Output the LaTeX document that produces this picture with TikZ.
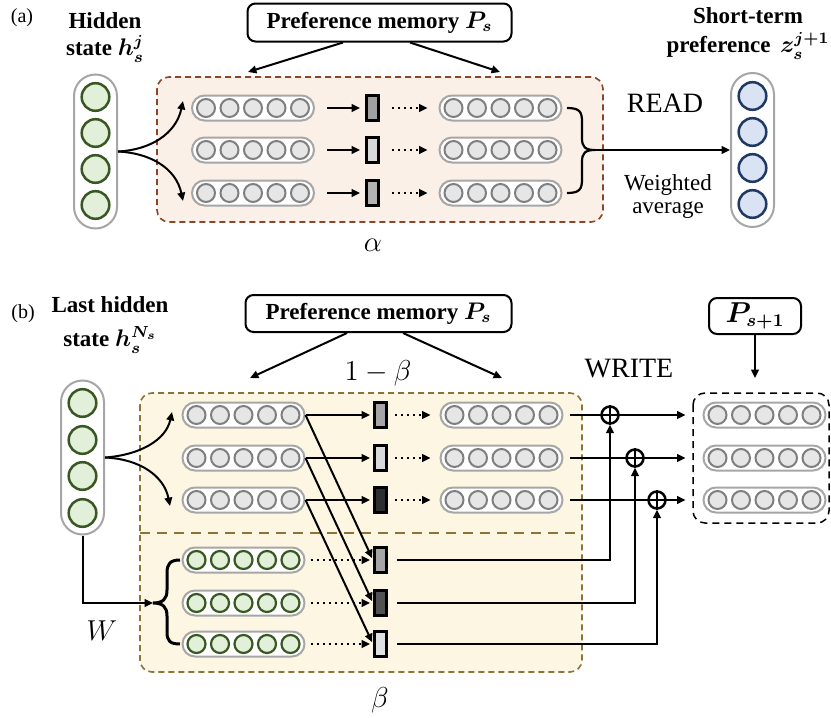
\documentclass[tikz,border=0pt]{standalone}
\usepackage{amsmath}
\usepackage{fontspec}
\setmainfont{Liberation Serif}
\usetikzlibrary{arrows.meta,calc}
\definecolor{gfill}{HTML}{E2F0D9}
\definecolor{gline}{HTML}{385723}
\definecolor{cfill}{HTML}{E6E6E6}
\definecolor{cline}{HTML}{7F7F7F}
\definecolor{pline}{HTML}{A6A6A6}
\definecolor{bfill}{HTML}{DAE3F3}
\definecolor{bline}{HTML}{1F3864}
\definecolor{afill}{HTML}{FBF0E7}
\definecolor{aline}{HTML}{8A4628}
\definecolor{bbfill}{HTML}{FDF6E3}
\definecolor{bbline}{HTML}{8C7336}
\newcommand\lblfont{\fontsize{11.5}{13}\selectfont\bfseries}
\newcommand\mkhrow[4]{%
  \node[hpill] (#1) at (#2,#3) {};
  \foreach \k in {-2,...,2} \node[#4] (#1c\k) at (#2+\k*23.5,#3) {};
}
\newcommand\mkvpill[5]{%
  \node[vpill] (#1) at (#2,#3) {};
  \foreach \yy [count=\i] in {#5} \node[#4] (#1c\i) at (#2,\yy) {};
}
\tikzset{
  hpill/.style={draw=pline, fill=white, line width=1pt, rounded corners=6.25pt,
    minimum width=61pt, minimum height=12.5pt, inner sep=0pt},
  vpill/.style={draw=pline, fill=white, line width=1pt, rounded corners=10.75pt,
    minimum width=21.5pt, minimum height=77pt, inner sep=0pt},
  sgray/.style={circle, draw=cline, fill=cfill, line width=1pt, minimum size=9pt, inner sep=0pt},
  sgreen/.style={circle, draw=gline, fill=gfill, line width=1.1pt, minimum size=9pt, inner sep=0pt},
  biggreen/.style={circle, draw=gline, fill=gfill, line width=1.25pt, minimum size=13.8pt, inner sep=0pt},
  bigblue/.style={circle, draw=bline, fill=bfill, line width=1.25pt, minimum size=13.8pt, inner sep=0pt},
  barbox/.style={draw=black, line width=1.5pt, minimum width=6pt, minimum height=12.5pt, inner sep=0pt},
  membox/.style={draw=black, fill=white, line width=1pt, rounded corners=4pt, inner sep=0pt},
  arr/.style={line width=1pt, -{Triangle[length=4.2pt,width=3.8pt]}},
  darr/.style={line width=1pt, dotted, -{Triangle[length=4.2pt,width=3.8pt]}},
  opl/.style={circle, draw=black, line width=1.25pt, minimum size=8.5pt, inner sep=0pt},
  regA/.style={draw=aline, fill=afill, line width=0.8pt, dash pattern=on 3pt off 2pt, rounded corners=6pt},
  regB/.style={draw=bbline, fill=bbfill, line width=0.8pt, dash pattern=on 3pt off 2pt, rounded corners=6pt},
  regC/.style={draw=black, line width=0.75pt, dash pattern=on 3.5pt off 2.5pt, rounded corners=6pt},
  txt/.style={inner sep=0pt, anchor=base},
  mth/.style={inner sep=0pt, font=\fontsize{15}{17}\selectfont},
}
\begin{document}
\begin{tikzpicture}[x=0.5pt,y=-0.5pt]
\useasboundingbox (0,0) rectangle (831,718);
% ================= (a) =================
\node[txt] (labA) at (22,22) {\fontsize{10}{12}\selectfont (a)};
\node[txt] (hidA) at (105,28) {\lblfont\begin{tabular}[t]{@{}c@{}}Hidden\\[0.5pt]
  state $\smash{\boldsymbol{h_s^j}}$\end{tabular}};
\node[membox, minimum width=132pt, minimum height=19pt] (memA) at (379.5,22.5)
  {\lblfont Preference memory $\boldsymbol{P_s}$};
\coordinate (tA1) at (248,72);
\coordinate (tA2) at (500,72);
\draw[arr] ($(memA.south)+(-36.5,0)$) -- (tA1);
\draw[arr] ($(memA.south)+(30.5,0)$) -- (tA2);
\draw[regA] (157,77) rectangle (603,222);
\mkvpill{hA}{95.5}{151.5}{biggreen}{97,133,169,205}
\foreach \r/\y/\c in {1/108/A0A0A0,2/150/D9D9D9,3/193/B3B3B3}{
  \mkhrow{rA\r}{253}{\y}{sgray}
  \definecolor{tmpc}{HTML}{\c}
  \node[barbox, fill=tmpc] (bA\r) at (372.5,\y) {};
  \mkhrow{qA\r}{500.5}{\y}{sgray}
  \draw[arr, shorten <=6pt, shorten >=2.5pt] (rA\r) -- (bA\r);
  \draw[darr, shorten <=6pt, shorten >=5.5pt] (bA\r) -- (qA\r);
}
\coordinate (fA1) at (183,101);
\coordinate (fA3) at (183,201);
\draw[arr] (hA.east) .. controls (150,150) and (176,134) .. (fA1);
\draw[arr] (hA.east) .. controls (150,153) and (176,168) .. (fA3);
\draw[line width=1.1pt] (567,108) .. controls (580,108) and (582,112) .. (582,122) -- (582,138)
  .. controls (582,147) and (585,150) .. (595,150) .. controls (585,150) and (582,153) .. (582,162)
  -- (582,179) .. controls (582,189) and (580,193) .. (567,193);
\coordinate (brA) at (595,150);
\mkvpill{zA}{752.5}{150}{bigblue}{96,132,168,204}
\draw[arr] (brA) -- (zA.west);
\node[txt] (readA) at (665,112) {\fontsize{14}{16}\selectfont READ};
\node[txt] (wavg) at (668,190) {\fontsize{11.5}{11.5}\selectfont\begin{tabular}[t]{@{}c@{}}Weighted\\
  average\end{tabular}};
\node[txt] (stp) at (748,23) {\lblfont\begin{tabular}[t]{@{}c@{}}Short-term\\[1.5pt]
  preference\, $\smash{\boldsymbol{z_s^{j+1}}}$\end{tabular}};
\node[mth] (alpha) at (373,245) {$\alpha$};
% ================= (b) =================
\node[txt] (labB) at (23,318) {\fontsize{10}{12}\selectfont (b)};
\node[txt] (hidB) at (110,312) {\lblfont\begin{tabular}[t]{@{}c@{}}Last hidden\\[4pt]
  state $\smash{\boldsymbol{h_s^{N_s}}}$\end{tabular}};
\node[membox, minimum width=133pt, minimum height=18.5pt] (memB) at (378.5,313.5)
  {\lblfont Preference memory $\boldsymbol{P_s}$};
\coordinate (tB1) at (250,378);
\coordinate (tB2) at (502,378);
\draw[arr] ($(memB.south)+(-31.5,0)$) -- (tB1);
\draw[arr] ($(memB.south)+(24.5,0)$) -- (tB2);
\node[mth] (omb) at (378,373) {$1-\beta$};
\draw[regB] (140,393) rectangle (582,672);
\draw[bbline, line width=1.25pt, dash pattern=on 5pt off 3.5pt] (140,533) -- (582,533);
\mkvpill{hB}{82.5}{457.5}{biggreen}{403,440,476,513}
% upper rows
\foreach \r/\y/\c in {1/415/A6A6A6,2/458/D9D9D9,3/500/2E2E2E}{
  \mkhrow{rB\r}{243.5}{\y}{sgray}
  \definecolor{tmpc}{HTML}{\c}
  \node[barbox, fill=tmpc] (bB\r) at (380.5,\y) {};
  \mkhrow{qB\r}{501.5}{\y}{sgray}
  \draw[arr, shorten >=1.5pt] (rB\r) -- (bB\r);
  \draw[darr, shorten <=3.5pt, shorten >=4.5pt] (bB\r) -- (qB\r);
}
% lower rows
\foreach \r/\y/\c in {1/560/A6A6A6,2/603/525252,3/644/E0E0E0}{
  \mkhrow{gB\r}{243.5}{\y}{sgreen}
  \definecolor{tmpc}{HTML}{\c}
  \node[barbox, fill=tmpc] (lB\r) at (380.5,\y) {};
  \draw[darr, shorten <=2.5pt, shorten >=1.5pt] (gB\r) -- (lB\r);
}
\foreach \r in {1,2,3}{
  \draw[arr, shorten >=1pt] (rB\r.east) -- (lB\r.west);
}
\coordinate (fB1) at (172,412);
\coordinate (fB3) at (170,506);
\draw[arr] (hB.east) .. controls (140,455) and (166,440) .. (fB1);
\draw[arr] (hB.east) .. controls (140,459) and (164,476) .. (fB3);
\draw[line width=1.5pt] (180,560) .. controls (170,560) and (167,564) .. (167,573) -- (167,590)
  .. controls (167,599) and (163,603) .. (153,603) .. controls (163,603) and (167,607) .. (167,616)
  -- (167,632) .. controls (167,641) and (170,644) .. (180,644);
\coordinate (brB) at (153,603);
\draw[arr] (hB.south) |- (brB);
\node[mth] (wlab) at (102,631) {$W$};
\node[mth] (beta) at (380,700) {$\beta$};
% write part
\node[txt] (writeB) at (629,377) {\fontsize{14}{16}\selectfont WRITE};
\draw[regC] (693,393) rectangle (829,523);
\foreach \r/\y in {1/415,2/458,3/500}{
  \mkhrow{oB\r}{764.5}{\y}{sgray}
}
\node[opl] (op1) at (610,415) {};
\node[opl] (op2) at (635,458) {};
\node[opl] (op3) at (657,500) {};
\foreach \r in {1,2,3}{
  \draw[arr, shorten <=3pt, shorten >=8.5pt] (qB\r.east) -- (oB\r.west);
  \draw[line width=1.25pt] (op\r.north) -- (op\r.south);
  \draw[line width=1.25pt] (op\r.west) -- (op\r.east);
  \draw[arr, shorten <=4.5pt] (lB\r.east) -| (op\r.south);
}
\node[membox, minimum width=46pt, minimum height=18pt] (mem2) at (755,316)
  {\fontsize{13.5}{15}\selectfont $\boldsymbol{P_{s+1}}$};
\coordinate (tC) at (755,378);
\draw[arr] (mem2.south) -- (tC);
\end{tikzpicture}
\end{document}
